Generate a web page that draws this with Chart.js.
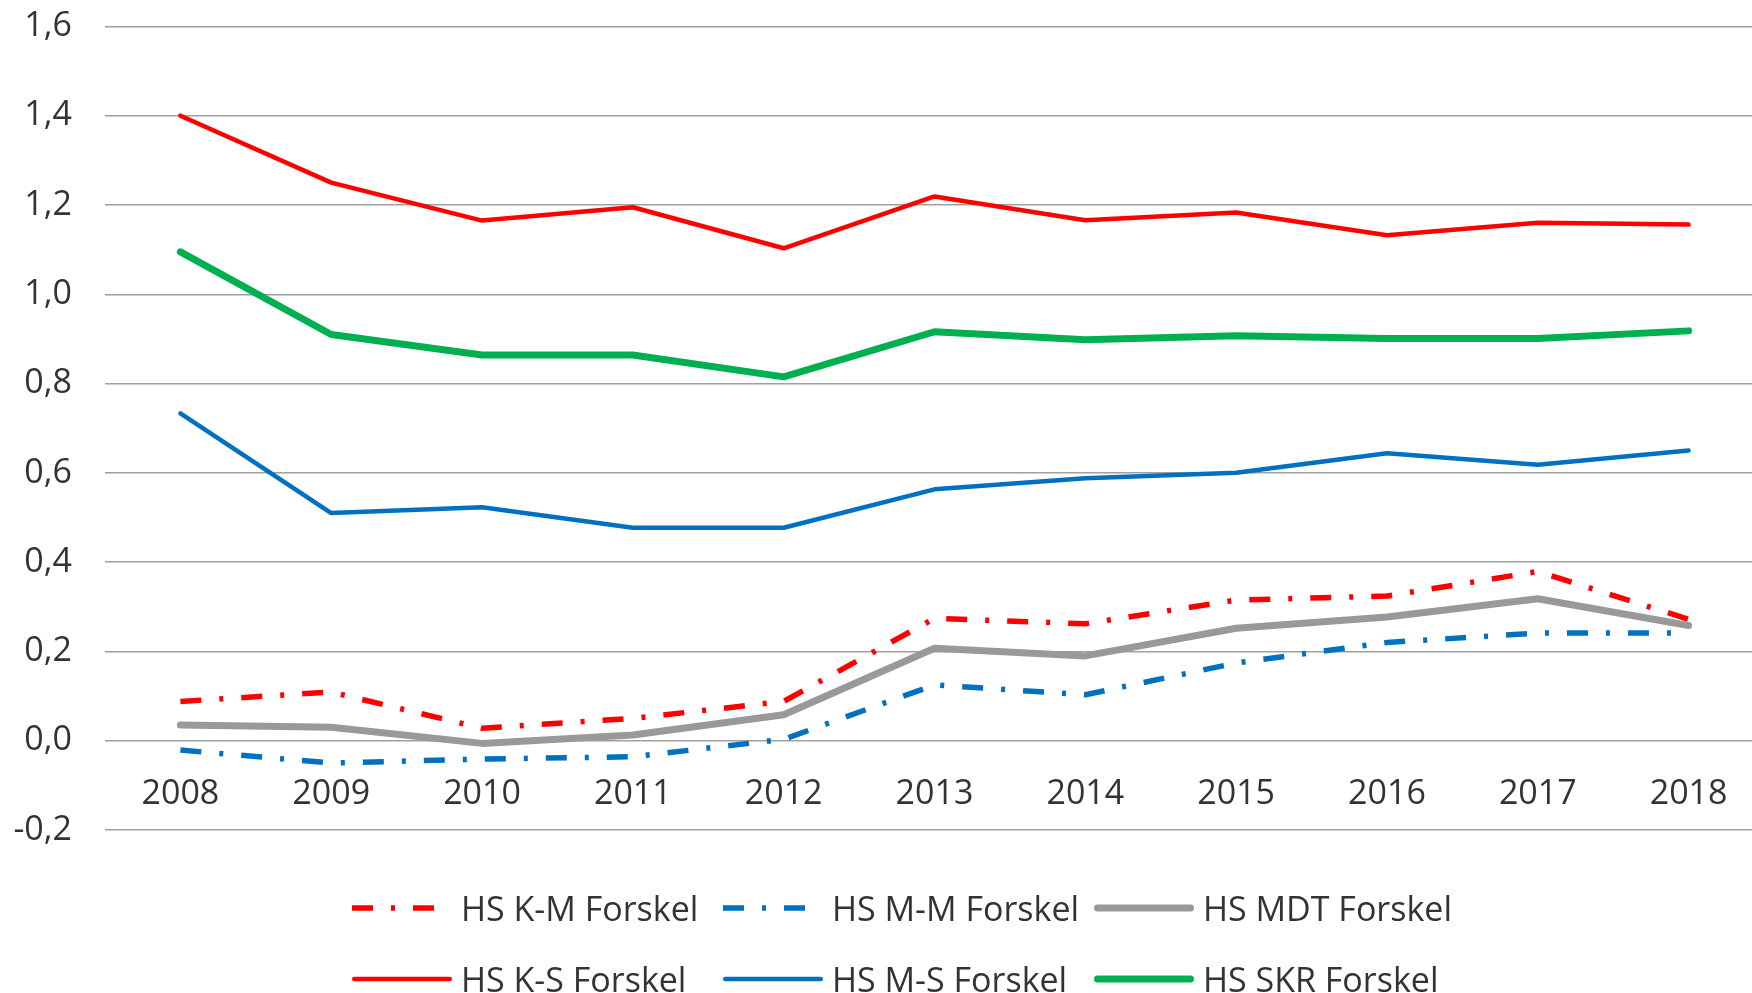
<!DOCTYPE html>
<html>
<head>
<meta charset="utf-8">
<script src="https://cdn.jsdelivr.net/npm/chart.js@4.4.1/dist/chart.umd.min.js"></script>
<style>
  html, body { margin: 0; padding: 0; background: #fff; overflow: hidden; }
  #wrap { position: relative; width: 1752px; height: 993px; overflow: hidden; }
  #chart { position: absolute; left: 0; top: -27px; }
  #legend {
    position: absolute; left: 352px; top: 872px;
    display: grid; grid-template-columns: repeat(3, 371px); grid-auto-rows: 71px;
    font-family: 'Open Sans', sans-serif; font-size: 34px; color: #333;
  }
  .item { display: flex; align-items: center; white-space: nowrap; }
  .item svg { margin-right: 9px; flex: none; }
</style>
</head>
<body>
<div id="wrap">
  <canvas id="chart" width="1766" height="1020"></canvas>
  <div id="legend"></div>
</div>
<script>
// years on the category axis
const years = ['2008', '2009', '2010', '2011', '2012', '2013', '2014', '2015', '2016', '2017', '2018'];

// series, in legend order
const hsKM  = [0.088, 0.109, 0.028, 0.050, 0.088, 0.274, 0.262, 0.315, 0.324, 0.379, 0.272];
const hsMM  = [-0.021, -0.050, -0.041, -0.036, 0.003, 0.125, 0.103, 0.174, 0.220, 0.241, 0.241];
const hsMDT = [0.035, 0.030, -0.006, 0.013, 0.058, 0.207, 0.190, 0.252, 0.277, 0.318, 0.258];
const hsKS  = [1.400, 1.250, 1.165, 1.195, 1.103, 1.219, 1.166, 1.183, 1.132, 1.160, 1.156];
const hsMS  = [0.733, 0.510, 0.523, 0.477, 0.477, 0.563, 0.588, 0.600, 0.644, 0.618, 0.650];
const hsSKR = [1.095, 0.910, 0.864, 0.864, 0.815, 0.916, 0.898, 0.907, 0.901, 0.901, 0.918];

const seriesNames = ['HS K-M Forskel', 'HS M-M Forskel', 'HS MDT Forskel', 'HS K-S Forskel', 'HS M-S Forskel', 'HS SKR Forskel'];

// y axis
const yMin = -0.2;
const yMax = 1.6;
const yStep = 0.2;

const dashDot = [21, 18, 4, 18];

const styles = [
  { color: '#ff0000', width: 5.5, dash: dashDot },
  { color: '#0070c0', width: 5.5, dash: dashDot },
  { color: '#999999', width: 7, dash: [] },
  { color: '#ff0000', width: 4.5, dash: [] },
  { color: '#0070c0', width: 4.5, dash: [] },
  { color: '#00b050', width: 7, dash: [] }
];

const seriesData = [hsKM, hsMM, hsMDT, hsKS, hsMS, hsSKR];

const datasets = seriesData.map((d, i) => ({
  label: seriesNames[i],
  data: d,
  borderColor: styles[i].color,
  backgroundColor: styles[i].color,
  borderWidth: styles[i].width,
  borderDash: styles[i].dash,
  borderCapStyle: styles[i].dash.length ? 'butt' : 'round',
  borderJoinStyle: 'round',
  pointRadius: 0,
  pointHoverRadius: 0,
  tension: 0,
  fill: false
}));

Chart.defaults.font.family = "'Open Sans', sans-serif";
Chart.defaults.font.size = 34;
Chart.defaults.color = '#333333';

new Chart(document.getElementById('chart'), {
  type: 'line',
  data: { labels: years, datasets: datasets },
  options: {
    responsive: false,
    animation: false,
    layout: { padding: { top: 1, bottom: 163, left: 0, right: 2 } },
    plugins: { legend: { display: false }, tooltip: { enabled: false } },
    scales: {
      x: {
        position: { y: 0 },
        offset: true,
        grid: { display: false, drawTicks: false },
        border: { display: false },
        ticks: { padding: 33, maxRotation: 0, autoSkip: false }
      },
      y: {
        min: yMin,
        max: yMax,
        afterFit: (scale) => { scale.width = 105; },
        grid: { color: '#a0a0a0', lineWidth: 1.5, drawTicks: false },
        border: { display: false },
        ticks: {
          stepSize: yStep,
          padding: 33,
          callback: (v) => v.toFixed(1).replace('.', ',')
        }
      }
    }
  }
});

// legend in Excel-like columns
const legend = document.getElementById('legend');
seriesNames.forEach((name, i) => {
  const s = styles[i];
  const item = document.createElement('div');
  item.className = 'item';
  const cap = s.dash.length ? 'butt' : 'round';
  const x1 = s.dash.length ? 0 : s.width / 2;
  const x2 = s.dash.length ? 100 : 100 - s.width / 2;
  item.innerHTML =
    '<svg width="100" height="14"><line x1="' + x1 + '" y1="7" x2="' + x2 + '" y2="7" stroke="' + s.color +
    '" stroke-width="' + s.width + '" stroke-linecap="' + cap + '" stroke-dasharray="' + s.dash.join(',') + '"/></svg>' +
    '<span>' + name + '</span>';
  legend.appendChild(item);
});
</script>
</body>
</html>
